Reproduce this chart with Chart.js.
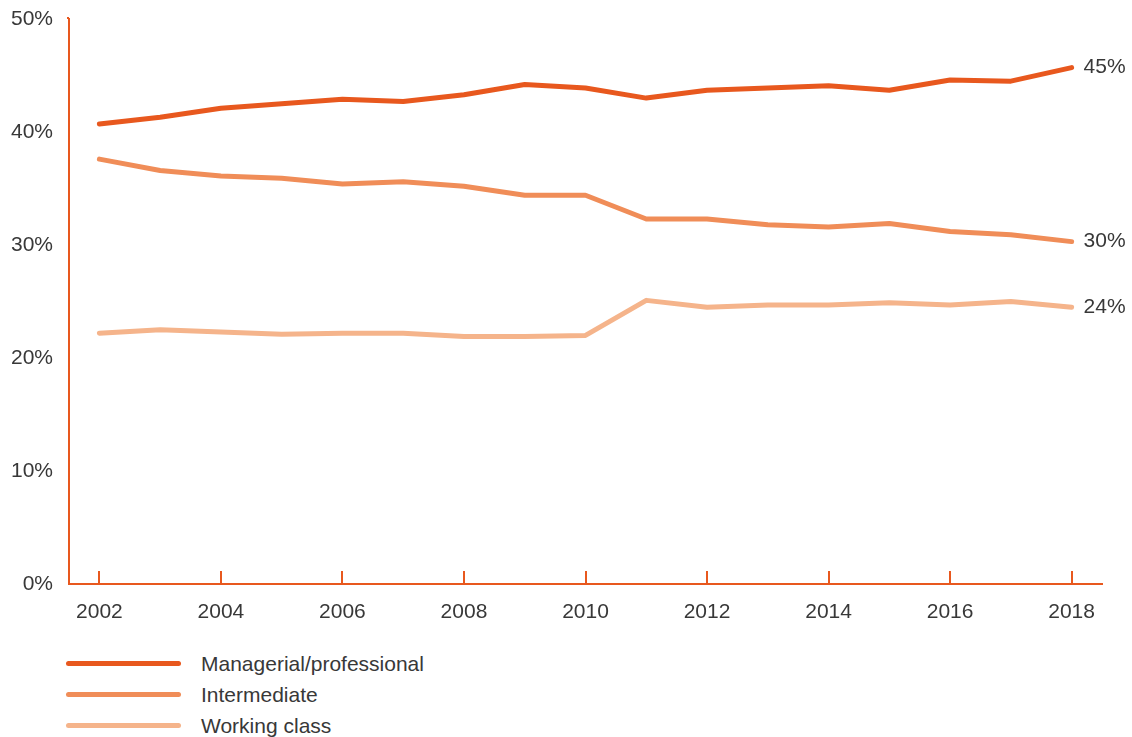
<!DOCTYPE html>
<html>
<head>
<meta charset="utf-8">
<script src="https://cdn.jsdelivr.net/npm/chart.js@4"></script>
<style>
  html, body { margin: 0; padding: 0; background: #fff; }
  body { width: 1132px; height: 737px; position: relative; overflow: hidden;
         font-family: "Liberation Sans", Arial, sans-serif; color: #333; }
  #wrap { position: absolute; left: 0; top: 0; width: 1132px; height: 640px; }
  #legend { position: absolute; left: 66px; top: 648px; }
  .row { height: 31px; display: flex; align-items: center; }
  .swatch { width: 115px; height: 5px; border-radius: 3px; margin-right: 20px; }
  .row span { font-size: 21px; color: #383838; }
</style>
</head>
<body>
<div id="wrap"><canvas id="chart"></canvas></div>
<div id="legend"></div>
<script>
// data
const years = ["2002","2003","2004","2005","2006","2007","2008","2009","2010",
  "2011","2012","2013","2014","2015","2016","2017","2018"];
const managerial = [40.7,41.3,42.1,42.5,42.9,42.7,43.3,44.2,43.9,43.0,43.7,43.9,44.1,43.7,44.6,44.5,45.7];
const intermediate = [37.6,36.6,36.1,35.9,35.4,35.6,35.2,34.4,34.4,32.3,32.3,31.8,31.6,31.9,31.2,30.9,30.3];
const workingClass = [22.2,22.5,22.3,22.1,22.2,22.2,21.9,21.9,22.0,25.1,24.5,24.7,24.7,24.9,24.7,25.0,24.5];
const seriesNames = ["Managerial/professional", "Intermediate", "Working class"];
const endLabels = ["45%", "30%", "24%"];
const yTicks = [0, 10, 20, 30, 40, 50];

const colors = ["#e8581e", "#f08d58", "#f5b48b"];
const axisColor = "#e8581e";
const textColor = "#383838";
const font = { family: "'Liberation Sans', Arial, sans-serif", size: 21 };

// ticks pointing up from the x axis, every two years
const innerTicks = {
  id: "innerTicks",
  afterDraw(c) {
    const x = c.scales.x, ctx = c.ctx, bottom = c.chartArea.bottom;
    ctx.save();
    ctx.strokeStyle = axisColor;
    ctx.lineWidth = 2;
    years.forEach((yr, i) => {
      if (i % 2) return;
      const px = Math.round(x.getPixelForValue(i));
      ctx.beginPath();
      ctx.moveTo(px, bottom);
      ctx.lineTo(px, bottom - 13);
      ctx.stroke();
    });
    // axis line runs a little above the 50% tick
    const yl = c.scales.y.right;
    ctx.beginPath();
    ctx.moveTo(yl - 1, c.chartArea.top);
    ctx.lineTo(yl - 1, c.chartArea.top - 2);
    ctx.stroke();
    ctx.restore();
  }
};

// value labels at the end of each line
const endLabelPlugin = {
  id: "endLabels",
  afterDatasetsDraw(c) {
    const ctx = c.ctx;
    ctx.save();
    ctx.font = `${font.size}px ${font.family}`;
    ctx.fillStyle = textColor;
    ctx.textBaseline = "middle";
    ctx.textAlign = "left";
    c.data.datasets.forEach((ds, i) => {
      const pts = c.getDatasetMeta(i).data;
      const p = pts[pts.length - 1];
      ctx.fillText(endLabels[i], p.x + 12, p.y);
    });
    ctx.restore();
  }
};

const seriesData = [managerial, intermediate, workingClass];

const chart = new Chart(document.getElementById("chart"), {
  type: "line",
  data: {
    labels: years,
    datasets: seriesData.map((d, i) => ({
      label: seriesNames[i],
      data: d,
      borderColor: colors[i],
      backgroundColor: colors[i],
      borderWidth: 5,
      pointRadius: 0,
      tension: 0,
      borderCapStyle: "round",
      borderJoinStyle: "round",
      clip: false,
      order: 3 - i
    }))
  },
  options: {
    responsive: true,
    maintainAspectRatio: false,
    animation: false,
    events: [],
    layout: { padding: { top: 19, right: 30, left: 0, bottom: 0 } },
    plugins: { legend: { display: false }, tooltip: { enabled: false } },
    scales: {
      x: {
        type: "category",
        offset: true,
        grid: { display: true, color: "rgba(0,0,0,0)", drawTicks: false, offset: true },
        border: { display: true, color: axisColor, width: 2 },
        ticks: {
          autoSkip: false,
          maxRotation: 0,
          color: textColor,
          font: font,
          padding: 16,
          callback: (v, i) => (i % 2 === 0 ? years[i] : "")
        },
        afterFit: s => { s.height = 56; s.paddingLeft = 0; s.paddingRight = 0; }
      },
      y: {
        min: 0,
        max: 50,
        afterBuildTicks: s => { s.ticks = yTicks.map(v => ({ value: v })); },
        grid: { display: true, color: "rgba(0,0,0,0)", drawTicks: false },
        border: { display: true, color: axisColor, width: 2 },
        ticks: {
          color: textColor,
          font: font,
          padding: 16,
          callback: v => v + "%"
        },
        afterFit: s => { s.width = 69; s.paddingTop = 0; s.paddingBottom = 0; }
      }
    }
  },
  plugins: [innerTicks, endLabelPlugin]
});

// legend, one row per series
const legend = document.getElementById("legend");
seriesNames.forEach((name, i) => {
  const row = document.createElement("div");
  row.className = "row";
  row.innerHTML = `<div class="swatch" style="background:${colors[i]}"></div><span>${name}</span>`;
  legend.appendChild(row);
});
</script>
</body>
</html>
